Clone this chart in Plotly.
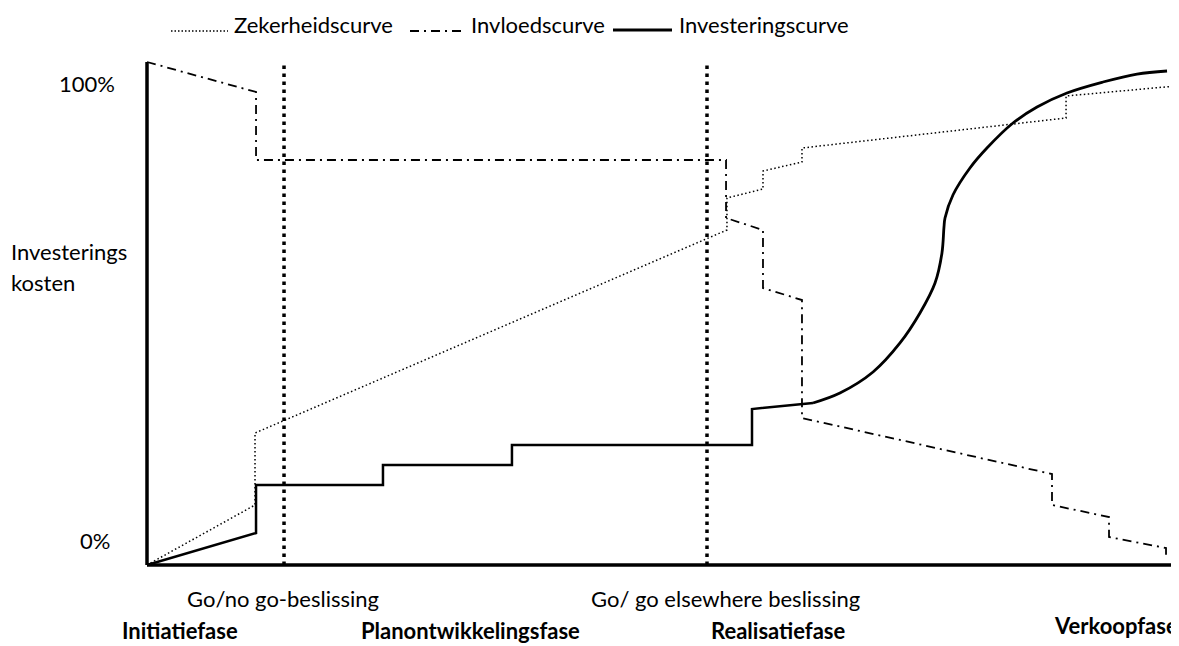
import plotly.graph_objects as go

# ---------------- data (time axis 0..100, cost 0..100 %) ----------------
zeker_x = [0, 10.61, 10.61, 56.97, 56.97, 60.51, 60.51, 64.34, 64.34, 90.28, 90.28, 101.08, 101.08]
zeker_y = [0, 11.93, 26.24, 66.60, 72.96, 74.75, 78.33, 80.12, 82.90, 88.87, 93.24, 95.23, 99.40]

invloed_x = [0, 10.71, 10.71, 56.88, 56.88, 60.51, 60.51, 64.34, 64.34, 88.90, 88.90, 94.50, 94.50, 100.10, 100.10]
invloed_y = [100, 94.04, 80.52, 80.52, 68.99, 66.60, 55.07, 52.68, 29.22, 18.09, 11.93, 9.54, 5.57, 3.38, 1.59]

invest_step_x = [0, 10.71, 10.71, 23.18, 23.18, 35.85, 35.85, 59.43, 59.43, 65.42]
invest_step_y = [0, 6.36, 15.90, 15.90, 19.88, 19.88, 23.86, 23.86, 31.01, 32.21]

invest_curve_x = [65.42, 68.07, 71.32, 73.97, 75.93, 77.41, 78.09, 78.29, 78.39, 79.17, 80.84,
                  82.51, 85.07, 87.43, 90.37, 93.91, 97.25, 100.20]
invest_curve_y = [32.21, 34.19, 38.37, 44.14, 50.10, 56.06, 62.03, 67.20, 68.99, 73.56, 78.93,
                  82.90, 87.87, 91.05, 93.84, 96.02, 97.61, 98.21]

decision_x = [13.46, 55.01]
decision_labels = ["Go/no go-beslissing", "Go/ go elsewhere beslissing"]

phase_labels = ["Initiatiefase", "Planontwikkelingsfase", "Realisatiefase", "Verkoopfase"]
legend_labels = ["Zekerheidscurve", "Invloedscurve", "Investeringscurve"]

# page is 1179x646; the page body has an 8px margin, so the figure is shifted by it
PW, PH = 1179, 646
OFF = 8
W, H = PW - OFF, PH - OFF
FONT = "Lato"
FS = 22

X0, XS = 147, 10.18   # page px of x=0, px per unit
Y0, YS = 565, 5.03    # page px of y=0, px per unit

fig = go.Figure()

# decision lines
for dx in decision_x:
    fig.add_trace(go.Scatter(x=[dx, dx], y=[0, 100], mode="lines",
                             line=dict(color="black", width=3.5, dash="3.5px,4.5px"),
                             showlegend=False, hoverinfo="skip"))

fig.add_trace(go.Scatter(x=zeker_x, y=zeker_y, mode="lines", name=legend_labels[0],
                         line=dict(color="black", width=1.5, dash="1.5px,2.5px"), showlegend=False))
fig.add_trace(go.Scatter(x=invloed_x, y=invloed_y, mode="lines", name=legend_labels[1],
                         line=dict(color="black", width=1.8, dash="9px,5px,2px,5px"), showlegend=False))
fig.add_trace(go.Scatter(x=invest_step_x, y=invest_step_y, mode="lines", name=legend_labels[2],
                         line=dict(color="black", width=2.5), showlegend=False))
fig.add_trace(go.Scatter(x=invest_curve_x, y=invest_curve_y, mode="lines", name=legend_labels[2],
                         line=dict(color="black", width=2.8, shape="spline", smoothing=1.0),
                         showlegend=False))

# axes lines
x_max = (PW - X0) / XS
fig.add_shape(type="line", x0=0, x1=0, y0=0, y1=100, xref="x", yref="y",
              line=dict(color="black", width=3.5))
fig.add_shape(type="line", x0=0, x1=x_max, y0=0, y1=0, xref="x", yref="y",
              line=dict(color="black", width=3.5))


def px(xp):
    return (xp - OFF) / W


def py(yp):
    return 1 - (yp - OFF) / H


def text(t, x, y, xanchor="left", size=FS, bold=False):
    fig.add_annotation(text=("<b>%s</b>" % t) if bold else t, x=px(x), y=py(y),
                       xref="paper", yref="paper", showarrow=False,
                       xanchor=xanchor, yanchor="middle",
                       font=dict(family=FONT, size=size, color="black"))


# left labels
text("100%", 117, 84, xanchor="right")
text("0%", 112, 540, xanchor="right")
text("Investerings", 9, 251)
text("kosten", 9, 282)

# decision labels
text(decision_labels[0], 283, 598, xanchor="center")
text(decision_labels[1], 725, 598, xanchor="center")

# phase labels
text(phase_labels[0], 180, 630, xanchor="center", bold=True)
text(phase_labels[1], 470, 630, xanchor="center", bold=True)
text(phase_labels[2], 778, 630, xanchor="center", bold=True)
text(phase_labels[3], 1052, 625, xanchor="left", bold=True)

# legend
ly = 25
fig.add_shape(type="line", xref="paper", yref="paper", x0=px(171), x1=px(228), y0=py(31), y1=py(31),
              line=dict(color="black", width=1.3, dash="1.5px,2px"))
text(legend_labels[0], 232, ly)
fig.add_shape(type="line", xref="paper", yref="paper", x0=px(410), x1=px(462), y0=py(31), y1=py(31),
              line=dict(color="black", width=1.8, dash="9px,5px,2px,5px"))
text(legend_labels[1], 469, ly)
fig.add_shape(type="line", xref="paper", yref="paper", x0=px(613), x1=px(672), y0=py(30), y1=py(30),
              line=dict(color="black", width=3))
text(legend_labels[2], 677, ly)

fig.update_layout(
    width=W, height=H,
    margin=dict(l=0, r=0, t=0, b=0),
    paper_bgcolor="white", plot_bgcolor="white",
    showlegend=False,
    xaxis=dict(range=[(OFF - X0) / XS, x_max], visible=False, fixedrange=True),
    yaxis=dict(range=[(Y0 - PH) / YS, (Y0 - OFF) / YS], visible=False, fixedrange=True),
)

fig.write_html("out.html")
